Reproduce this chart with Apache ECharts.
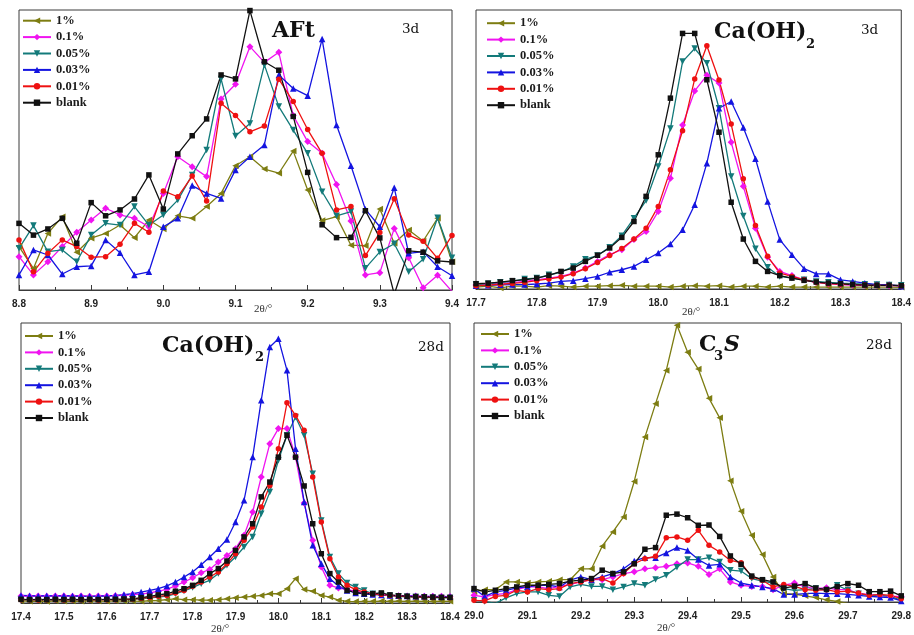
<!DOCTYPE html>
<html><head><meta charset="utf-8">
<script src="https://cdn.jsdelivr.net/npm/echarts@6/dist/echarts.min.js"></script>
<style>html,body{margin:0;padding:0;background:#fff}#c{width:914px;height:635px}</style>
</head><body><div id="c"></div>
<script>
// ---------- data: 2θ positions ----------
const aftTheta = [8.80,8.82,8.84,8.86,8.88,8.90,8.92,8.94,8.96,8.98,9.00,9.02,9.04,9.06,9.08,9.10,9.12,9.14,9.16,9.18,9.20,9.22,9.24,9.26,9.28,9.30,9.32,9.34,9.36,9.38,9.40];
const ch3Theta = [17.70,17.72,17.74,17.76,17.78,17.80,17.82,17.84,17.86,17.88,17.90,17.92,17.94,17.96,17.98,18.00,18.02,18.04,18.06,18.08,18.10,18.12,18.14,18.16,18.18,18.20,18.22,18.24,18.26,18.28,18.30,18.32,18.34,18.36,18.38,18.40];
const ch28Theta = [17.40,17.42,17.44,17.46,17.48,17.50,17.52,17.54,17.56,17.58,17.60,17.62,17.64,17.66,17.68,17.70,17.72,17.74,17.76,17.78,17.80,17.82,17.84,17.86,17.88,17.90,17.92,17.94,17.96,17.98,18.00,18.02,18.04,18.06,18.08,18.10,18.12,18.14,18.16,18.18,18.20,18.22,18.24,18.26,18.28,18.30,18.32,18.34,18.36,18.38,18.40];
const c3sTheta = [29.00,29.02,29.04,29.06,29.08,29.10,29.12,29.14,29.16,29.18,29.20,29.22,29.24,29.26,29.28,29.30,29.32,29.34,29.36,29.38,29.40,29.42,29.44,29.46,29.48,29.50,29.52,29.54,29.56,29.58,29.60,29.62,29.64,29.66,29.68,29.70,29.72,29.74,29.76,29.78,29.80];

// ---------- data: intensities (relative, 0–100 of panel height) ----------
// AFt 3d
const aft_1pct  = [15.5,7.7,20.2,26.2,13.5,18.5,20.2,23.2,18.7,25,21.8,26.5,25.6,29.8,34.5,44.4,47.6,43.2,41.7,49.6,35.7,24.8,26.2,16,15.8,28.9,16.7,21.4,17.5,25.6,10.1];
const aft_01    = [11.9,5.4,10.1,15.5,20.6,25,29.2,26.8,25.6,22.6,34.5,47.6,44,40.5,68.2,73.5,86.9,81.3,84.9,62.3,53,48.8,37.7,24.6,5.4,6.2,22,11.5,0.8,5.3,-0.5];
const aft_005   = [14.9,23,13.7,14.3,10.1,19.6,23.8,23.2,29.8,23.2,26.8,32.1,41.1,50,75.4,55,59.5,80.4,65.5,57.1,48.8,35.1,26.5,28,7.8,13.6,16.5,6.5,11,25.8,11.5];
const aft_003   = [5.4,14.3,12.5,5.7,8.3,8.6,17.9,13.3,5.4,6.5,22.6,25.6,37.3,34.5,32.7,42.9,47.6,51.8,76.8,72,69.4,89.6,58.9,44.4,28.8,22.6,36.5,13.1,13.7,8.3,5.1];
const aft_001   = [17.9,6.5,13.1,17.9,15.5,11.7,11.9,16.3,23.8,20.6,35.4,33.3,40.7,31.8,66.7,62.3,56.5,58.6,75.3,67.3,57.3,48.8,28.6,29.8,12.3,20.5,32.6,19.6,17.4,11.3,19.5];
const aft_blank = [23.8,19.6,21.8,25.6,16.7,31.2,26.5,28.6,32.5,41.1,28.9,48.6,55.1,61.1,76.8,75.4,99.8,81.5,78.5,62,42,23.3,18.7,18.8,28.3,18.6,-1.5,14,13.5,10.4,10];
// Ca(OH)2 3d
const ch3_1pct  = [0.7,1.0,0.4,1.0,1.0,0.7,1.2,1.0,0.7,1.0,1.0,1.2,1.3,1.0,1.0,1.0,0.7,1.0,1.2,1.0,1.2,0.7,1.0,1.0,0.7,1.0,0.7,0.7,0.7,0.7,0.7,0.7,0.7,0.7,0.7,0.6];
const ch3_01    = [1.4,1.7,2.0,2.3,2.7,3.3,3.9,4.5,5.7,7.5,9.9,12.3,14.1,17.7,20.6,27.8,39.7,58.8,71,76.6,73.8,52.6,36.8,21.8,11.4,6.3,4.8,3.3,2.4,1.9,1.6,1.4,1.3,1.3,1.2,1.2];
const ch3_005   = [1.6,1.9,2.4,2.7,3.6,3.9,5.1,6,8.1,10.7,12,15,19.1,25.4,31.7,43.9,57.5,81.5,86.2,80.9,64.8,40.3,26.2,14.4,7.8,4.5,3.9,3.3,2.7,2.4,2.1,1.9,1.7,1.6,1.4,1.3];
const ch3_003   = [1.2,1.3,1.5,1.6,1.6,1.8,2.1,2.7,3,3.7,4.5,6,6.9,8.1,10.5,12.9,16.1,21.2,30.2,45.1,64.8,67.2,57.9,46.7,31.4,17.7,12.3,7.3,5.4,5.4,3.3,2.7,2.1,1.6,1.6,1.0];
const ch3_001   = [1.2,1.4,1.7,2.0,2.4,3.0,3.6,4.3,5.5,7.3,9.5,12,14.5,17.9,21.8,29.6,42.7,56.7,75.3,87.2,74.9,59.1,39.5,22.8,11.7,5.7,4.5,3.3,2.4,1.9,1.7,1.6,1.4,1.3,1.3,1.2];
const ch3_blank = [1.9,2.1,2.5,3,3.3,3.9,4.9,6.3,7.5,9.9,12.1,14.7,18.5,24.2,33.2,48.1,68.4,91.6,91.6,75,56.2,31.1,17.9,9.9,6.3,4.8,3.9,3.1,2.5,2.1,1.9,1.6,1.4,1.3,1.3,1.2];
// Ca(OH)2 28d
const ch28_1pct  = [0.8,0.6,0.7,0.5,0.8,0.6,0.7,0.6,0.8,0.7,0.6,0.8,0.7,0.7,0.6,0.8,0.9,1.2,1.5,1.2,1.2,1.0,1.0,1.2,1.5,1.9,2.1,2.4,2.7,3.3,3.3,5.1,8.7,4.8,4.2,2.7,2.1,1.0,0.6,0.5,0.6,0.6,0.7,0.6,0.7,0.6,0.7,0.6,0.6,0.7,0.6];
const ch28_01    = [2.5,2.4,2.5,2.4,2.5,2.5,2.4,2.5,2.4,2.5,2.5,2.6,2.7,3.0,3.2,3.6,4.2,4.9,6.1,7.5,9.0,10.8,12.0,14.6,17.0,19.4,24.2,32.5,45,56.9,62.3,62.3,52.1,35.7,22.4,12.9,6.3,5.4,4.8,4.2,3.6,3.3,3.0,2.7,2.6,2.5,2.5,2.4,2.4,2.4,2.3];
const ch28_005   = [1.2,1.1,1.2,1.2,1.1,1.2,1.2,1.1,1.2,1.2,1.2,1.2,1.2,1.3,1.5,1.8,2.1,2.5,3.3,4.3,5.5,6.9,8.1,10.5,13.5,16.4,20,23.6,31.9,39.6,51,59.9,66.4,59.9,46.2,29.5,16.4,10.5,7.1,5.7,4.5,3.3,2.9,2.6,2.4,2.2,2.1,2.0,1.9,1.8,1.8];
const ch28_003   = [2.7,2.6,2.5,2.6,2.5,2.6,2.5,2.5,2.4,2.5,2.5,2.7,3.0,3.3,3.9,4.5,5.1,6.1,7.5,9.3,11.1,13.7,16.4,19.4,22.7,28.9,36.7,52.1,72.4,91.4,94.4,83.1,55.1,36.1,20.6,14,8.7,6.1,4.5,3.6,3.3,3.0,2.9,2.7,2.6,2.5,2.4,2.4,2.3,2.2,2.2];
const ch28_001   = [1.2,1.2,1.1,1.2,1.2,1.1,1.2,1.2,1.2,1.1,1.2,1.2,1.3,1.4,1.7,2.0,2.4,2.7,3.6,4.5,6.0,7.5,9.3,11.1,14.0,17.6,22.4,27.1,34.3,42.0,55.1,71.5,67.0,61.7,45.0,28.9,15.8,9.3,6.3,4.8,3.9,3.3,3.0,2.7,2.5,2.3,2.2,2.1,2.0,2.0,1.9];
const ch28_blank = [1.3,1.2,1.3,1.2,1.3,1.2,1.3,1.2,1.3,1.2,1.3,1.3,1.4,1.5,1.9,2.4,2.9,3.3,4.2,5.1,6.3,8.1,10.5,12.3,15,18.8,23.6,28.3,37.9,43.2,52.1,59.9,52.1,41.8,28.3,17.6,10.5,7.5,4.5,3.8,3.3,3.3,3.6,2.9,2.6,2.4,2.3,2.2,2.1,2.0,2.0];
// C3S 28d
const c3s_1pct  = [3.6,4.4,4.4,7.2,7.2,6.8,7.2,7.4,8,8,11.9,11.9,20,25.1,30.5,43.2,59.1,71.1,83,99.2,89.5,83.5,73,66,43.5,32.5,23.9,17,9,3,2.8,2.2,1.6,0.8,0.2,-0.5,-1,-1,-1,-1,-1];
const c3s_01    = [2.4,1.8,2.7,3,4.4,5.4,5.4,4.8,5.6,6.3,7.2,8,8,9,10.2,10.8,11.9,12.3,12.8,13.7,14,12.8,9.9,11.9,7.2,6,5.6,5.6,4.4,6,6.8,5.4,4.8,5.1,4.4,4.4,3,2.7,2.4,2,2];
const c3s_005   = [0.6,0.2,-0.5,1.5,3,3.6,3.6,2.4,2,5.4,6.3,5.6,5.6,4.4,5.4,6.6,6,8.1,9.6,12.5,15.2,15.2,15.9,14.3,11.4,11.1,8.4,7.5,6.8,4.8,4.2,4.4,4.8,4.2,6,4.2,3,2.4,2.4,2,0.6];
const c3s_003   = [4.8,2,3.6,4.2,5.1,5.4,6,6,5.4,7.8,9,8,9,10.2,11.9,14.7,15.9,15.9,17.6,19.5,18.5,15.2,13.1,13.5,9,6.8,6,5.4,4.8,2.7,2.7,3,3.2,3,3,2.7,2.4,2,1.8,1.6,0.4];
const c3s_001   = [0.6,0.4,2,2.4,4.2,3.6,4.8,4.4,4.8,6.6,7.2,8,8.4,6.8,10.2,13.7,15.5,16.4,23,23.3,22.1,25.7,20.3,17.9,14.9,14.1,9,7.8,5.4,6.3,5.6,4.4,4.2,4.4,3.6,3.9,3.2,2.4,2.7,2.4,1.2];
const c3s_blank = [4.8,3.6,4.2,4.8,5.4,6,6,6.3,6.6,7.5,7.8,8.4,11.4,10.2,10.8,13.7,18.9,19.5,31.1,31.5,30.2,27.5,27.6,23.5,16.5,13.5,9.3,8,7.2,5,5.7,6.6,5,4.5,5.5,6.6,6,3.7,3.7,3.9,2.2];

const seriesNames = ['1%','0.1%','0.05%','0.03%','0.01%','blank'];

// ---------- styles ----------
const colors    = ['#7d7d12','#f014f0','#137a7a','#1414e0','#ee1111','#111111'];
const symbols   = ['triangle','diamond','triangle','triangle','circle','rect'];
const rotations = [90,0,180,0,0,0];
const sizes     = [6.5,7,6.5,6.5,5.5,5.5];

const panels = [
  {theta: aftTheta, vals: [aft_1pct,aft_01,aft_005,aft_003,aft_001,aft_blank], min: 8.8, max: 9.4,
   grid: {left: 19, top: 10, width: 433, height: 280}, legend: {left: 22, top: 12.5}},
  {theta: ch3Theta, vals: [ch3_1pct,ch3_01,ch3_005,ch3_003,ch3_001,ch3_blank], min: 17.7, max: 18.4,
   grid: {left: 476, top: 10, width: 429, height: 279}, legend: {left: 486, top: 15}},
  {theta: ch28Theta, vals: [ch28_1pct,ch28_01,ch28_005,ch28_003,ch28_001,ch28_blank], min: 17.4, max: 18.4,
   grid: {left: 21, top: 323, width: 429, height: 280}, legend: {left: 24, top: 327.8}},
  {theta: c3sTheta, vals: [c3s_1pct,c3s_01,c3s_005,c3s_003,c3s_001,c3s_blank], min: 29.0, max: 29.8,
   grid: {left: 474, top: 323, width: 430, height: 279}, legend: {left: 480, top: 325.8}}
];

const grids = [], xAxes = [], yAxes = [], series = [], legends = [];
panels.forEach((p, pi) => {
  grids.push(Object.assign({show: true, borderColor: '#3a3a3a', borderWidth: 1, backgroundColor: 'transparent'}, p.grid));
  xAxes.push({
    type: 'value', gridIndex: pi, min: p.min, max: p.max, interval: 0.1,
    axisLine: {show: true, onZero: false, lineStyle: {color: '#3a3a3a', width: 1}},
    axisTick: {show: true, inside: true, length: 5, lineStyle: {color: '#3a3a3a'}},
    minorTick: {show: true, splitNumber: 2, length: 3, lineStyle: {color: '#3a3a3a'}},
    splitLine: {show: false},
    axisLabel: {formatter: v => v.toFixed(1), fontFamily: 'Liberation Sans', fontWeight: 'bold',
                fontSize: 10, color: '#222', margin: 9, showMinLabel: true, showMaxLabel: true}
  });
  yAxes.push({type: 'value', gridIndex: pi, min: 0, max: 100, show: false});
  seriesNames.forEach((nm, si) => {
    series.push({
      type: 'line', name: nm, xAxisIndex: pi, yAxisIndex: pi,
      data: p.theta.map((t, i) => [t, p.vals[si][i]]),
      symbol: symbols[si], symbolSize: sizes[si], symbolRotate: rotations[si],
      showSymbol: true, clip: true,
      lineStyle: {color: colors[si], width: 1.3},
      itemStyle: {color: colors[si]},
      emphasis: {disabled: true}
    });
  });
  legends.push({
    orient: 'vertical', left: p.legend.left, top: p.legend.top, padding: 0,
    itemWidth: 28, itemHeight: 8, itemGap: 0, selectedMode: false,
    data: seriesNames,
    textStyle: {fontFamily: 'Liberation Serif', fontWeight: 'bold', fontSize: 12.5, color: '#1a1a1a', lineHeight: 16.4}
  });
});

function txt(x, y, s, font, extra) {
  return Object.assign({type: 'text', x: x, y: y, silent: true,
    style: {text: s, font: font, fill: '#111', align: 'left', verticalAlign: 'middle'}}, extra || {});
}
const titleFont = 'bold 22px "DejaVu Serif"';
const subFont = 'bold 13px "DejaVu Serif"';
const dayFont = '13.5px "DejaVu Serif"';
const nameFont = '11px "Liberation Serif"';
const graphics = [
  txt(272, 31, 'AFt', titleFont),
  txt(714, 32, 'Ca(OH)', titleFont), txt(806, 45, '2', subFont),
  txt(162, 346, 'Ca(OH)', titleFont), txt(255, 358, '2', subFont),
  txt(699, 345, 'C', titleFont), txt(714, 357, '3', subFont), txt(724, 345, 'S', 'italic bold 22px "DejaVu Serif"'),
  txt(402, 29, '3d', dayFont), txt(861, 30, '3d', dayFont),
  txt(418, 347, '28d', dayFont), txt(866, 345, '28d', dayFont),
  txt(263, 309, '2θ/°', nameFont, {style: {text: '2θ/°', font: nameFont, fill: '#333', align: 'center', verticalAlign: 'middle'}}),
  txt(691, 312, '2θ/°', nameFont, {style: {text: '2θ/°', font: nameFont, fill: '#333', align: 'center', verticalAlign: 'middle'}}),
  txt(220, 629, '2θ/°', nameFont, {style: {text: '2θ/°', font: nameFont, fill: '#333', align: 'center', verticalAlign: 'middle'}}),
  txt(666, 628, '2θ/°', nameFont, {style: {text: '2θ/°', font: nameFont, fill: '#333', align: 'center', verticalAlign: 'middle'}})
];

const chart = echarts.init(document.getElementById('c'), null, {renderer: 'canvas'});
chart.setOption({
  animation: false,
  backgroundColor: '#fff',
  grid: grids, xAxis: xAxes, yAxis: yAxes,
  legend: legends,
  series: series,
  graphic: graphics
});
</script>
</body></html>
